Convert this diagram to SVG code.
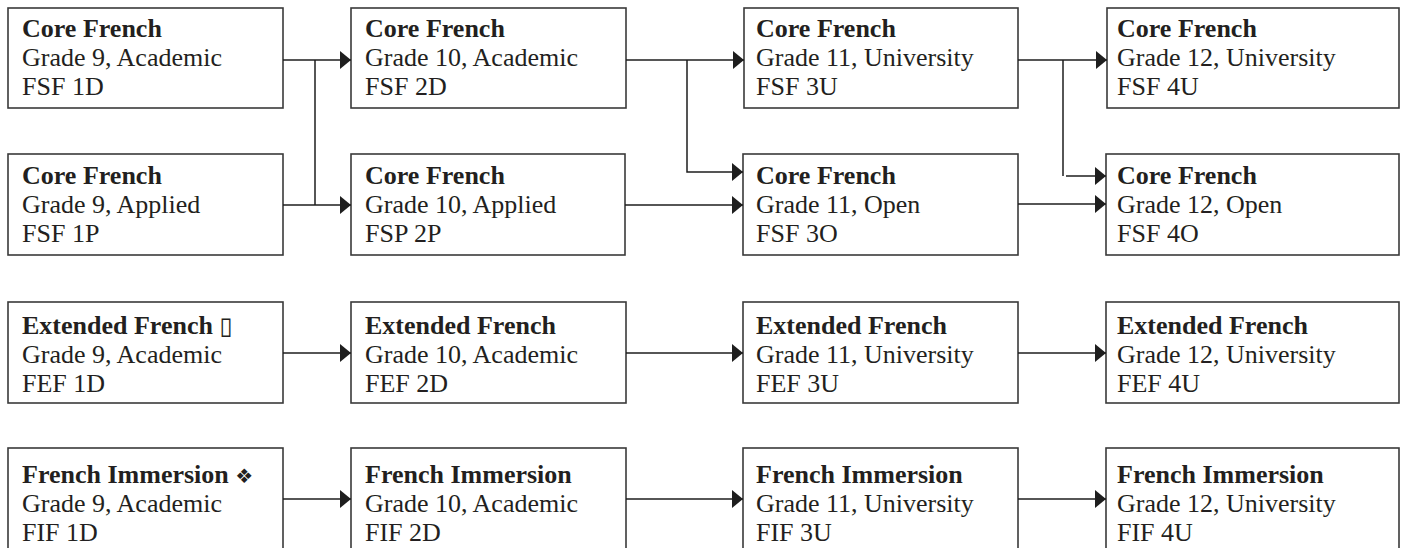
<svg xmlns="http://www.w3.org/2000/svg" width="1404" height="548" viewBox="0 0 1404 548">
<defs>
<marker id="ah" markerUnits="userSpaceOnUse" markerWidth="12" markerHeight="18" refX="11" refY="9" orient="auto">
<path d="M0,0 L11,9 L0,18 z" fill="#1e1e1e"/>
</marker>
<style>
.box{fill:#fff;stroke:#3a3a3a;stroke-width:1.6}
text{font-family:"Liberation Serif","Times New Roman",serif;font-size:26px;fill:#231f20}
.t{font-weight:bold}
.sym{font-family:"DejaVu Sans",sans-serif;font-weight:normal}
.c{fill:none;stroke:#1e1e1e;stroke-width:1.5}
.a{marker-end:url(#ah)}
</style>
</defs>
<rect width="1404" height="548" fill="#fff"/>

<g id="fsf1d"><rect class="box" x="8" y="8" width="275" height="100"/>
<text x="22" y="37" class="t">Core French</text><text x="22" y="66">Grade 9, Academic</text><text x="22" y="95">FSF 1D</text></g>
<g id="fsf1p"><rect class="box" x="8" y="154" width="275" height="101"/>
<text x="22" y="184" class="t">Core French</text><text x="22" y="213">Grade 9, Applied</text><text x="22" y="242">FSF 1P</text></g>
<g id="fsf2d"><rect class="box" x="351" y="8" width="275" height="100"/>
<text x="365" y="37" class="t">Core French</text><text x="365" y="66">Grade 10, Academic</text><text x="365" y="95">FSF 2D</text></g>
<g id="fsp2p"><rect class="box" x="351" y="154" width="274" height="101"/>
<text x="365" y="184" class="t">Core French</text><text x="365" y="213">Grade 10, Applied</text><text x="365" y="242">FSP 2P</text></g>
<g id="fsf3u"><rect class="box" x="744" y="8" width="274" height="100"/>
<text x="756" y="37" class="t">Core French</text><text x="756" y="66">Grade 11, University</text><text x="756" y="95">FSF 3U</text></g>
<g id="fsf3o"><rect class="box" x="743" y="154" width="275" height="101"/>
<text x="756" y="184" class="t">Core French</text><text x="756" y="213">Grade 11, Open</text><text x="756" y="242">FSF 3O</text></g>
<g id="fsf4u"><rect class="box" x="1107" y="8" width="292" height="100"/>
<text x="1117" y="37" class="t">Core French</text><text x="1117" y="66">Grade 12, University</text><text x="1117" y="95">FSF 4U</text></g>
<g id="fsf4o"><rect class="box" x="1106" y="154" width="293" height="101"/>
<text x="1117" y="184" class="t">Core French</text><text x="1117" y="213">Grade 12, Open</text><text x="1117" y="242">FSF 4O</text></g>

<g id="fef1d"><rect class="box" x="8" y="302" width="275" height="101"/>
<text x="22" y="334" class="t">Extended French <tspan class="sym" font-size="24">▯</tspan></text><text x="22" y="363">Grade 9, Academic</text><text x="22" y="392">FEF 1D</text></g>
<g id="fef2d"><rect class="box" x="351" y="302" width="275" height="101"/>
<text x="365" y="334" class="t">Extended French</text><text x="365" y="363">Grade 10, Academic</text><text x="365" y="392">FEF 2D</text></g>
<g id="fef3u"><rect class="box" x="743" y="302" width="275" height="101"/>
<text x="756" y="334" class="t">Extended French</text><text x="756" y="363">Grade 11, University</text><text x="756" y="392">FEF 3U</text></g>
<g id="fef4u"><rect class="box" x="1106" y="302" width="293" height="101"/>
<text x="1117" y="334" class="t">Extended French</text><text x="1117" y="363">Grade 12, University</text><text x="1117" y="392">FEF 4U</text></g>

<g id="fif1d"><rect class="box" x="8" y="448" width="275" height="102"/>
<text x="22" y="483" class="t">French Immersion <tspan class="sym" font-size="20">❖</tspan></text><text x="22" y="512">Grade 9, Academic</text><text x="22" y="541">FIF 1D</text></g>
<g id="fif2d"><rect class="box" x="351" y="448" width="275" height="102"/>
<text x="365" y="483" class="t">French Immersion</text><text x="365" y="512">Grade 10, Academic</text><text x="365" y="541">FIF 2D</text></g>
<g id="fif3u"><rect class="box" x="743" y="448" width="275" height="102"/>
<text x="756" y="483" class="t">French Immersion</text><text x="756" y="512">Grade 11, University</text><text x="756" y="541">FIF 3U</text></g>
<g id="fif4u"><rect class="box" x="1106" y="448" width="293" height="102"/>
<text x="1117" y="483" class="t">French Immersion</text><text x="1117" y="512">Grade 12, University</text><text x="1117" y="541">FIF 4U</text></g>

<g id="connectors">
<path class="c a" d="M283,60 H351"/>
<path class="c a" d="M283,205 H351"/>
<path class="c" d="M315,60 V205"/>
<path class="c a" d="M626,60 H744"/>
<path class="c a" d="M687,60 V172 H743"/>
<path class="c a" d="M625,205 H743"/>
<path class="c a" d="M1018,60 H1107"/>
<path class="c" d="M1063,60 V176"/>
<path class="c a" d="M1066,176 H1106"/>
<path class="c a" d="M1018,204 H1106"/>
<path class="c a" d="M283,353 H351"/>
<path class="c a" d="M626,353 H743"/>
<path class="c a" d="M1018,353 H1106"/>
<path class="c a" d="M283,499 H351"/>
<path class="c a" d="M626,499 H743"/>
<path class="c a" d="M1018,499 H1106"/>
</g>
</svg>
